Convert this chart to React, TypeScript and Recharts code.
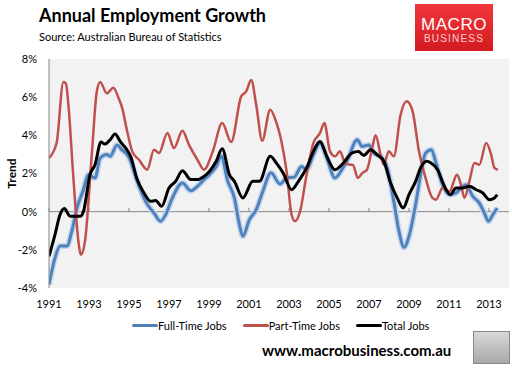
import { LineChart, Line, XAxis, YAxis, CartesianGrid, ReferenceLine, Legend, Label } from "recharts";

const xTicks = [1991, 1993, 1995, 1997, 1999, 2001, 2003, 2005, 2007, 2009, 2011, 2013];
const yTicks = [-4, -2, 0, 2, 4, 6, 8];
const seriesNames = ["Full-Time Jobs", "Part-Time Jobs", "Total Jobs"];
const seriesColors = ["#4f81bd", "#c0504d", "#000000"];

const fullTimeYears = [
  1991.0, 1991.3, 1991.55, 1991.9, 1992.14, 1992.4, 1992.72, 1992.97, 1993.3, 1993.56, 1993.89, 1994.06,
  1994.4, 1994.64, 1995.0, 1995.41, 1995.83, 1996.25, 1996.58, 1996.83, 1997.17, 1997.67, 1998.09, 1998.42,
  1998.75, 1999.02, 1999.36, 1999.61, 1999.94, 2000.27, 2000.52, 2000.69, 2001.02, 2001.36, 2001.69, 2002.1,
  2002.55, 2002.9, 2003.25, 2003.63, 2003.88, 2004.22, 2004.55, 2004.89, 2005.3, 2005.64, 2005.97, 2006.31,
  2006.41, 2006.66, 2006.99, 2007.24, 2007.58, 2007.91, 2008.24, 2008.5, 2008.75, 2009.0, 2009.33, 2009.58,
  2009.83, 2010.12, 2010.35, 2010.68, 2011.02, 2011.35, 2011.6, 2011.85, 2012.19, 2012.52, 2012.77, 2012.97,
  2013.19, 2013.41,
];
const fullTimeValues = [
  -3.82, -2.43, -1.8, -1.8, -1.03, 0.19, 1.15, 1.94, 1.76, 2.81, 3.0, 2.9,
  3.5, 3.25, 2.85, 1.59, 0.54, -0.07, -0.5, -0.16, 0.72, 1.5, 1.1, 1.33,
  1.68, 1.94, 2.37, 2.9, 1.59, 0.72, -0.68, -1.29, -0.42, 0.1, 1.06, 2.04,
  1.45, 1.78, 1.8, 2.37, 2.2, 2.98, 3.6, 2.81, 1.76, 2.2, 2.81, 3.68,
  3.77, 3.42, 3.5, 3.07, 2.9, 2.29, 0.54, -1.03, -1.87, -1.29, 0.37, 1.94,
  3.07, 3.25, 2.55, 1.41, 0.89, 0.98, 1.24, 1.41, 0.8, 0.45, -0.07, -0.5,
  -0.16, 0.19,
];

const partTimeYears = [
  1991.0, 1991.38, 1991.72, 1991.85, 1991.97, 1992.22, 1992.47, 1992.6, 1992.8, 1993.14, 1993.39, 1993.56,
  1993.89, 1994.22, 1994.48, 1994.66, 1994.91, 1995.16, 1995.5, 1995.91, 1996.25, 1996.5, 1996.92, 1997.25,
  1997.67, 1998.0, 1998.42, 1998.75, 1999.19, 1999.66, 2000.11, 2000.61, 2000.86, 2001.11, 2001.36, 2001.66,
  2002.06, 2002.36, 2002.6, 2002.88, 2003.13, 2003.3, 2003.55, 2003.88, 2004.22, 2004.55, 2004.77, 2005.05,
  2005.3, 2005.55, 2005.8, 2006.06, 2006.2, 2006.44, 2006.66, 2006.9, 2007.16, 2007.33, 2007.58, 2007.74,
  2007.99, 2008.24, 2008.58, 2008.88, 2009.16, 2009.5, 2009.83, 2010.17, 2010.35, 2010.68, 2011.02, 2011.4,
  2011.6, 2011.77, 2012.02, 2012.27, 2012.52, 2012.86, 2013.11, 2013.27, 2013.44,
];
const partTimeValues = [
  2.81, 3.6, 6.8, 6.7, 5.6, 1.76, -1.55, -2.25, -1.55, 3.0, 6.3, 6.8,
  6.2, 6.5, 5.95, 5.43, 4.2, 3.16, 2.72, 2.2, 3.25, 3.07, 4.12, 3.33,
  4.24, 3.5, 2.72, 2.2, 3.16, 4.64, 3.65, 6.04, 6.3, 6.9, 5.6, 3.72,
  5.34, 4.7, 3.8, 2.11, -0.16, -0.5, 0, 1.94, 3.6, 4.12, 4.64, 3.16,
  2.9, 3.16, 2.55, 2.46, 2.45, 1.76, 2.02, 2.2, 3.33, 4.0, 2.98, 2.46,
  3.16, 2.9, 5.08, 5.78, 5.34, 3.16, 1.76, 0.72, 0.63, 1.24, 1.06, 1.94,
  1.41, 0.72, 1.59, 2.55, 2.46, 3.6, 2.98, 2.29, 2.2,
];

const totalYears = [
  1991.0, 1991.3, 1991.55, 1991.77, 1992.05, 1992.55, 1992.72, 1993.05, 1993.3, 1993.6, 1993.8, 1994.06,
  1994.3, 1994.56, 1994.89, 1995.08, 1995.41, 1995.75, 1996.08, 1996.33, 1996.63, 1997.0, 1997.33, 1997.67,
  1998.09, 1998.42, 1998.75, 1999.02, 1999.36, 1999.66, 2000.02, 2000.27, 2000.69, 2001.19, 2001.52, 2002.06,
  2002.4, 2002.71, 2003.13, 2003.47, 2003.88, 2004.22, 2004.55, 2004.89, 2005.3, 2005.72, 2006.14, 2006.47,
  2006.74, 2007.08, 2007.41, 2007.74, 2008.08, 2008.41, 2008.71, 2009.0, 2009.33, 2009.58, 2009.88, 2010.1,
  2010.43, 2010.77, 2011.07, 2011.35, 2011.69, 2012.02, 2012.36, 2012.69, 2013.02, 2013.27, 2013.41,
];
const totalValues = [
  -2.34, -1.2, -0.16, 0.16, -0.24, -0.24, 0, 1.94, 2.46, 3.65, 3.54, 3.77,
  4.07, 3.68, 3.25, 2.9, 1.68, 0.98, 0.54, 0.58, 0.28, 1.24, 1.59, 2.15,
  1.68, 1.68, 1.85, 2.11, 2.64, 3.3, 1.94, 1.59, 0.72, 1.59, 1.59, 2.9,
  2.5, 2.02, 1.15, 1.59, 2.29, 3.16, 3.68, 2.9, 2.2, 2.55, 3.07, 3.15,
  2.95, 3.25, 2.98, 2.64, 1.5, 0.72, 0.19, 0.89, 1.59, 2.29, 2.64, 2.55,
  2.2, 1.33, 0.89, 1.24, 1.24, 1.33, 1.15, 0.98, 0.63, 0.72, 0.89,
];

function toPoints(years: number[], values: number[]) {
  return years.map((x, i) => ({ x, v: values[i] }));
}

const fullTimeData = toPoints(fullTimeYears, fullTimeValues);
const partTimeData = toPoints(partTimeYears, partTimeValues);
const totalData = toPoints(totalYears, totalValues);

const FONT = "Lato, 'Liberation Sans', sans-serif";

function LegendBox() {
  return (
    <div style={{ display: "flex", alignItems: "center", fontFamily: FONT, fontSize: 11, color: "#000" }}>
      {seriesNames.map((name, i) => (
        <div key={name} style={{ display: "flex", alignItems: "center", marginRight: 16 }}>
          <div style={{ width: 26, height: 3, background: seriesColors[i], borderRadius: 2 }} />
          <span>{name}</span>
        </div>
      ))}
    </div>
  );
}

export default function App() {
  return (
    <div style={{ position: "absolute", left: 0, top: 0, width: 512, height: 368, background: "#fff", fontFamily: FONT }}>
      <LineChart width={512} height={368} data={totalData} margin={{ top: 59, right: 3, bottom: 50, left: 0 }}>
        <CartesianGrid fill="#f2f2f2" horizontal={false} vertical={false} />
        <XAxis
          type="number"
          dataKey="x"
          domain={[1991, 2014]}
          ticks={xTicks}
          height={30}
          axisLine={false}
          tickLine={false}
          tickMargin={6}
          tick={{ fontSize: 11, fill: "#000", fontFamily: FONT }}
          allowDataOverflow
        />
        <YAxis
          type="number"
          domain={[-4, 8]}
          ticks={yTicks}
          width={49}
          tickFormatter={(v: number) => `${v}%`}
          axisLine={{ stroke: "#868686" }}
          tickLine={false}
          tickMargin={6}
          tick={{ fontSize: 11, fill: "#000", fontFamily: FONT }}
        >
          <Label value="Trend" angle={-90} position="insideLeft" offset={12} style={{ fontSize: 12, fontWeight: 700, fill: "#000", fontFamily: FONT, textAnchor: "middle" }} />
        </YAxis>
        <ReferenceLine y={0} stroke="#868686" />
        {xTicks.map((t) => (
          <ReferenceLine key={t} segment={[{ x: t, y: 0 }, { x: t, y: 0.2 }]} stroke="#868686" />
        ))}
        <Line data={fullTimeData} dataKey="v" type="monotone" stroke="#c5d7ee" strokeWidth={6} dot={false} legendType="none" isAnimationActive={false} />
        <Line data={fullTimeData} dataKey="v" name={seriesNames[0]} type="monotone" stroke={seriesColors[0]} strokeWidth={3} dot={false} isAnimationActive={false} />
        <Line data={partTimeData} dataKey="v" name={seriesNames[1]} type="monotone" stroke={seriesColors[1]} strokeWidth={2.5} dot={false} isAnimationActive={false} />
        <Line data={totalData} dataKey="v" name={seriesNames[2]} type="monotone" stroke={seriesColors[2]} strokeWidth={3} dot={false} isAnimationActive={false} />
        <Legend
          layout="horizontal"
          verticalAlign="middle"
          content={() => <LegendBox />}
          wrapperStyle={{ top: 319, left: 132, width: 340 }}
        />
      </LineChart>

      <div style={{ position: "absolute", left: 39, top: 4, fontSize: 18, fontWeight: 700, color: "#000", whiteSpace: "nowrap" }}>
        Annual Employment Growth
      </div>
      <div style={{ position: "absolute", left: 39, top: 30, fontSize: 11, color: "#000", whiteSpace: "nowrap" }}>
        Source: Australian Bureau of Statistics
      </div>

      <div
        style={{
          position: "absolute",
          left: 415,
          top: 4,
          width: 78,
          height: 47,
          background: "linear-gradient(#f0383c, #d21a20)",
          textAlign: "center",
          fontFamily: "'Liberation Sans', Arial, sans-serif",
        }}
      >
        <div style={{ color: "#fff", fontSize: 17, lineHeight: "17px", marginTop: 12, letterSpacing: 0.5 }}>MACRO</div>
        <div style={{ color: "#fbd0d0", fontSize: 10, lineHeight: "12px", letterSpacing: 1.2 }}>BUSINESS</div>
      </div>

      <div style={{ position: "absolute", left: 262, top: 341, fontSize: 15, fontWeight: 700, color: "#000", whiteSpace: "nowrap" }}>
        www.macrobusiness.com.au
      </div>
      <div
        style={{
          position: "absolute",
          left: 473,
          top: 331,
          width: 35,
          height: 31,
          background: "linear-gradient(#d8d8d8, #a8a8a8)",
          border: "1px solid #888",
        }}
      />
    </div>
  );
}
